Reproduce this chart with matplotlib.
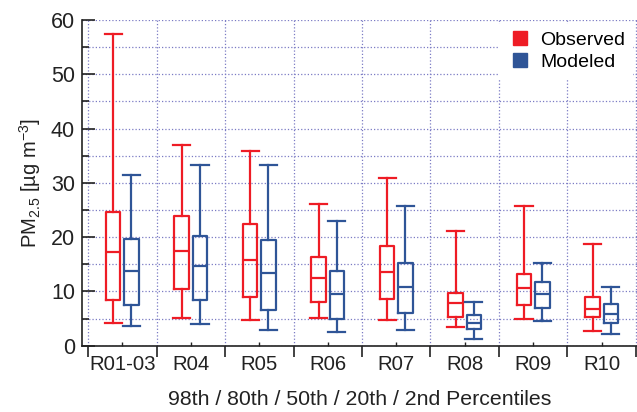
import numpy as np
import matplotlib
matplotlib.use("Agg")
import matplotlib.pyplot as plt
from matplotlib.ticker import MultipleLocator, FixedLocator
from matplotlib.lines import Line2D

plt.rcParams['font.family'] = ['Liberation Sans', 'DejaVu Sans']
plt.rcParams['mathtext.default'] = 'regular'

regions = ['R01-03', 'R04', 'R05', 'R06', 'R07', 'R08', 'R09', 'R10']

# percentiles: 2nd, 20th, 50th, 80th, 98th
obs_p02 = [4.2, 5.1, 4.8, 5.1, 4.7, 3.4, 4.9, 2.8]
obs_p20 = [8.5, 10.4, 8.9, 8.1, 8.6, 5.3, 7.5, 5.2]
obs_p50 = [17.3, 17.4, 15.8, 12.4, 13.6, 7.9, 10.7, 6.8]
obs_p80 = [24.6, 23.9, 22.4, 16.3, 18.4, 9.8, 13.2, 8.9]
obs_p98 = [57.5, 36.9, 35.9, 26.1, 30.9, 21.2, 25.8, 18.8]

mod_p02 = [3.6, 4.0, 2.9, 2.6, 2.9, 1.2, 4.6, 2.1]
mod_p20 = [7.5, 8.5, 6.6, 5.0, 6.0, 3.0, 7.0, 4.1]
mod_p50 = [13.8, 14.7, 13.4, 9.5, 10.8, 4.2, 9.5, 5.9]
mod_p80 = [19.7, 20.3, 19.5, 13.7, 15.3, 5.6, 11.7, 7.6]
mod_p98 = [31.5, 33.3, 33.3, 23.0, 25.7, 8.1, 15.2, 10.8]

red = '#ee1c25'
blue = '#2f5597'
grid_color = '#7b7bc4'


def make_stats(lo, q1, med, q3, hi):
    return [dict(whislo=a, q1=b, med=c, q3=d, whishi=e, fliers=[])
            for a, b, c, d, e in zip(lo, q1, med, q3, hi)]


fig = plt.figure(figsize=(6.37, 4.12), dpi=100)
ax = fig.add_axes([82 / 637, 1 - 345.7 / 412, 555 / 637, (345.7 - 20) / 412])

x = np.arange(len(regions))
off = 0.134
for stats, pos, col in [(make_stats(obs_p02, obs_p20, obs_p50, obs_p80, obs_p98), x - off, red),
                        (make_stats(mod_p02, mod_p20, mod_p50, mod_p80, mod_p98), x + off, blue)]:
    lp = dict(color=col, linewidth=1.6)
    ax.bxp(stats, positions=pos, widths=0.21, capwidths=0.25, showfliers=False,
           boxprops=lp, whiskerprops=lp, capprops=lp, medianprops=lp,
           manage_ticks=False)

ax.set_xlim(-0.588, 7.515)
ax.set_ylim(0, 60)

# axes styling
for s in ['top', 'right']:
    ax.spines[s].set_visible(False)
for s in ['left', 'bottom']:
    ax.spines[s].set_linewidth(1.2)
    ax.spines[s].set_color('#222222')

ax.yaxis.set_major_locator(MultipleLocator(10))
ax.yaxis.set_minor_locator(MultipleLocator(5))
ax.tick_params(axis='y', which='major', direction='in', length=9, width=1.2,
               labelsize=15.5, colors='#222222', pad=5)
ax.tick_params(axis='y', which='minor', direction='in', length=5, width=1.2, colors='#222222')

bounds = np.arange(len(regions) + 1) - 0.5
ax.xaxis.set_major_locator(FixedLocator(bounds))
ax.xaxis.set_minor_locator(FixedLocator(x))
ax.xaxis.set_major_formatter(plt.NullFormatter())
ax.xaxis.set_minor_formatter(plt.FixedFormatter(regions))
ax.tick_params(axis='x', which='major', direction='out', length=8, width=1.2, colors='#222222')
ax.tick_params(axis='x', which='minor', direction='in', length=3, width=1.0,
               labelsize=14.7, colors='#222222', pad=7)

ax.grid(True, which='major', axis='x', linestyle=':', color=grid_color, linewidth=0.9)
ax.grid(True, which='both', axis='y', linestyle=':', color=grid_color, linewidth=0.9)
ax.set_axisbelow(True)

ax.set_ylabel(r'PM$_{2.5}$ [µg m$^{-3}$]', fontsize=14.5, color='#222222', labelpad=6)
ax.set_xlabel('98th / 80th / 50th / 20th / 2nd Percentiles', fontsize=15.3,
              color='#222222', labelpad=11)

handles = [Line2D([], [], marker='s', linestyle='none', color=red, markersize=10),
           Line2D([], [], marker='s', linestyle='none', color=blue, markersize=10)]
leg = ax.legend(handles, ['Observed', 'Modeled'], loc='upper right', fontsize=14,
                frameon=True, fancybox=False, handletextpad=0.3, borderaxespad=0.2,
                labelspacing=0.2, handlelength=1.5)
leg.get_frame().set_edgecolor('none')
leg.get_frame().set_facecolor('white')
leg.get_frame().set_alpha(1)

fig.savefig('out.png', dpi=100)
